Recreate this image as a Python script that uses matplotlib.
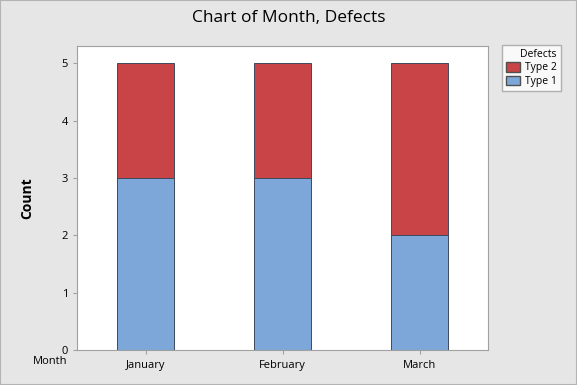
import numpy as np
import matplotlib
matplotlib.use("Agg")
import matplotlib.pyplot as plt
from matplotlib.patches import Patch

months = ["January", "February", "March"]
type1 = [3, 3, 2]
type2 = [2, 2, 3]
yticks = [0, 1, 2, 3, 4, 5]

blue = "#7DA7D8"
red = "#C84446"
bg = "#E6E6E6"

plt.rcParams["font.family"] = ["Open Sans", "DejaVu Sans"]

fig = plt.figure(figsize=(5.77, 3.85), dpi=100, facecolor=bg)
fig.patches.append(plt.Rectangle((0, 0), 1, 1, transform=fig.transFigure,
                                 fill=False, edgecolor="#B4B4B4", lw=1.5))
ax = fig.add_axes([0.1335, 0.0909, 0.7123, 0.7896])

x = np.arange(len(months))
w = 0.41
ax.bar(x, type1, w, color=blue, edgecolor="#3C4A5C", lw=0.7)
ax.bar(x, type2, w, bottom=type1, color=red, edgecolor="#3C4A5C", lw=0.7)

ax.set_xlim(-0.5, 2.5)
ax.set_ylim(0, 5.3)
ax.set_yticks(yticks)
ax.set_xticks(x)
ax.set_xticklabels(months)
for s in ax.spines.values():
    s.set_color("#A0A0A0")
ax.tick_params(axis="both", labelsize=8, color="#A0A0A0", length=3)
ax.tick_params(axis="x", pad=4)

ax.set_ylabel("Count", fontsize=10, fontweight="bold", labelpad=20)
fig.text(50 / 577, 1 - 361 / 385, "Month", fontsize=8, ha="center", va="center")
fig.text(0.5, 1 - 18 / 385, "Chart of Month, Defects", fontsize=12.5, ha="center", va="center")

handles = [Patch(facecolor=red, edgecolor="#505050"), Patch(facecolor=blue, edgecolor="#505050")]
leg = fig.legend(handles, ["Type 2", "Type 1"], title="Defects", loc="upper left",
                 bbox_to_anchor=(502 / 577, 1 - 45 / 385), borderaxespad=0,
                 fontsize=7.5, title_fontsize=7.5,
                 frameon=True, fancybox=False, borderpad=0.4, handlelength=1.3,
                 handleheight=1.0, handletextpad=0.5, labelspacing=0.2)
leg.get_frame().set_edgecolor("#A0A0A0")
leg.get_frame().set_linewidth(1)
leg._legend_box.align = "right"

fig.savefig("out.png", dpi=100, facecolor=bg)
